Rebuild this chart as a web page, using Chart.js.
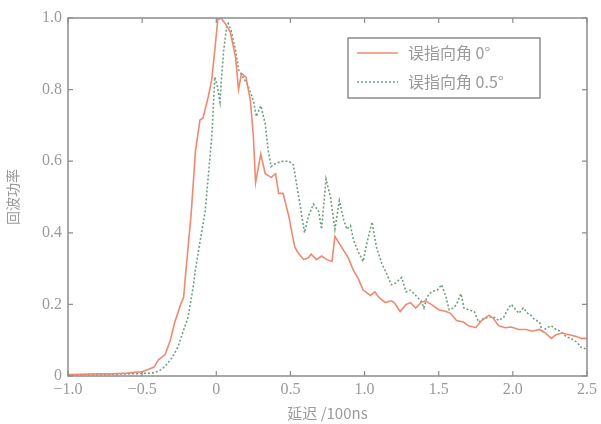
<!DOCTYPE html>
<html><head><meta charset="utf-8">
<script src="https://cdn.jsdelivr.net/npm/chart.js@4/dist/chart.umd.min.js"></script>
<style>html,body{margin:0;padding:0;background:#fff;}#wrap{width:601px;height:424px;}</style>
</head><body><div id="wrap"><canvas id="c" width="601" height="424"></canvas></div>
<script>
const seriesNames = ['误指向角 0°', '误指向角 0.5°'];
const xTicks = [-1.0, -0.5, 0, 0.5, 1.0, 1.5, 2.0, 2.5];
const yTicks = [0, 0.2, 0.4, 0.6, 0.8, 1.0];
const redX = [-1.0,-0.9,-0.8,-0.7,-0.6,-0.55,-0.5,-0.46,-0.42,-0.39,-0.345,-0.31,-0.28,-0.24,-0.22,-0.21,-0.17,-0.14,-0.11,-0.09,-0.054,-0.03,-0.01,0.01,0.03,0.06,0.095,0.13,0.15,0.17,0.20,0.23,0.25,0.265,0.30,0.33,0.37,0.40,0.42,0.45,0.49,0.51,0.53,0.55,0.59,0.62,0.64,0.675,0.71,0.745,0.78,0.80,0.845,0.89,0.925,0.96,0.99,1.04,1.07,1.095,1.14,1.18,1.20,1.24,1.28,1.31,1.345,1.38,1.41,1.45,1.50,1.55,1.58,1.62,1.67,1.70,1.75,1.79,1.84,1.87,1.905,1.95,1.99,2.04,2.09,2.13,2.18,2.22,2.26,2.29,2.33,2.38,2.43,2.46,2.5];
const redY = [0.004,0.005,0.006,0.006,0.008,0.010,0.012,0.018,0.025,0.045,0.06,0.10,0.15,0.20,0.22,0.27,0.45,0.63,0.715,0.72,0.78,0.83,0.91,0.995,1.0,0.985,0.96,0.89,0.80,0.845,0.835,0.77,0.67,0.54,0.62,0.565,0.555,0.565,0.51,0.51,0.445,0.40,0.36,0.345,0.325,0.33,0.34,0.325,0.335,0.325,0.32,0.39,0.36,0.33,0.295,0.27,0.24,0.225,0.235,0.22,0.205,0.21,0.205,0.18,0.20,0.205,0.19,0.205,0.21,0.20,0.185,0.18,0.175,0.155,0.15,0.14,0.135,0.155,0.17,0.16,0.14,0.135,0.137,0.13,0.13,0.125,0.13,0.12,0.105,0.115,0.12,0.115,0.11,0.105,0.105];
const greenX = [-1.0,-0.9,-0.8,-0.7,-0.6,-0.5,-0.45,-0.41,-0.37,-0.34,-0.30,-0.26,-0.19,-0.155,-0.14,-0.075,-0.03,-0.01,0.007,0.025,0.035,0.05,0.07,0.08,0.10,0.13,0.15,0.18,0.215,0.25,0.27,0.30,0.33,0.35,0.37,0.405,0.45,0.49,0.52,0.54,0.57,0.595,0.62,0.655,0.69,0.71,0.74,0.77,0.80,0.83,0.86,0.88,0.905,0.925,0.96,0.99,1.015,1.05,1.08,1.115,1.15,1.18,1.21,1.25,1.28,1.31,1.345,1.38,1.40,1.42,1.45,1.49,1.52,1.55,1.57,1.60,1.62,1.65,1.67,1.70,1.74,1.77,1.80,1.84,1.87,1.905,1.94,1.97,1.99,2.02,2.04,2.07,2.10,2.12,2.14,2.18,2.20,2.23,2.26,2.29,2.32,2.36,2.39,2.43,2.46,2.5];
const greenY = [0.003,0.004,0.004,0.005,0.006,0.007,0.008,0.010,0.018,0.03,0.05,0.08,0.165,0.25,0.30,0.46,0.67,0.835,0.81,0.765,0.83,0.91,0.975,0.985,0.965,0.91,0.855,0.835,0.81,0.77,0.725,0.755,0.705,0.63,0.585,0.595,0.60,0.60,0.59,0.54,0.465,0.40,0.445,0.48,0.46,0.41,0.55,0.50,0.41,0.49,0.435,0.41,0.42,0.38,0.345,0.32,0.37,0.43,0.36,0.315,0.285,0.255,0.26,0.275,0.235,0.24,0.225,0.21,0.19,0.22,0.235,0.24,0.255,0.22,0.185,0.19,0.20,0.23,0.19,0.185,0.18,0.15,0.16,0.165,0.165,0.155,0.165,0.19,0.20,0.185,0.175,0.19,0.175,0.17,0.16,0.15,0.125,0.135,0.14,0.13,0.125,0.11,0.105,0.095,0.08,0.075];

const AXIS = '#8c8c8c';
const TXT = '#9a9a9a';
const RED = '#ee8a72';
const GREEN = '#6f9f80';
const toPts = (xs, ys) => xs.map((x, i) => ({x: x, y: ys[i]}));
const fmt = v => (Math.abs(v) < 1e-9 ? '0' : v.toFixed(1).replace('-', '\u2212'));

const framePlugin = {
  id: 'frame',
  afterDraw(chart) {
    const {ctx, chartArea: a, scales} = chart;
    ctx.save();
    ctx.strokeStyle = AXIS;
    ctx.lineWidth = 1.5;
    ctx.strokeRect(a.left, a.top, a.right - a.left, a.bottom - a.top);
    ctx.lineWidth = 1.2;
    const L = 5;
    xTicks.forEach(v => {
      const px = scales.x.getPixelForValue(v);
      ctx.beginPath();
      ctx.moveTo(px, a.bottom); ctx.lineTo(px, a.bottom - L);
      ctx.moveTo(px, a.top); ctx.lineTo(px, a.top + L);
      ctx.stroke();
    });
    yTicks.forEach(v => {
      const py = scales.y.getPixelForValue(v);
      ctx.beginPath();
      ctx.moveTo(a.left, py); ctx.lineTo(a.left + L, py);
      ctx.moveTo(a.right, py); ctx.lineTo(a.right - L, py);
      ctx.stroke();
    });
    // legend box
    const bx = 348, by = 38, bw = 192, bh = 60;
    ctx.fillStyle = '#fff';
    ctx.fillRect(bx, by, bw, bh);
    ctx.strokeStyle = AXIS;
    ctx.lineWidth = 1.5;
    ctx.strokeRect(bx, by, bw, bh);
    const ds = chart.data.datasets;
    ds.forEach((d, i) => {
      const y = by + 15 + i * 29;
      ctx.strokeStyle = d.borderColor;
      ctx.lineWidth = 1.6;
      ctx.setLineDash(d.borderDash || []);
      ctx.beginPath(); ctx.moveTo(357, y); ctx.lineTo(398, y); ctx.stroke();
      ctx.setLineDash([]);
      ctx.fillStyle = TXT;
      ctx.font = '16px "Noto Sans CJK SC", "Liberation Serif", serif';
      ctx.textBaseline = 'middle';
      ctx.textAlign = 'left';
      ctx.fillText(d.label, 408, y);
    });
    ctx.restore();
  }
};

new Chart(document.getElementById('c'), {
  type: 'line',
  data: {
    datasets: [
      {label: seriesNames[0], data: toPts(redX, redY), borderColor: RED, borderWidth: 1.6, pointRadius: 0, tension: 0, fill: false},
      {label: seriesNames[1], data: toPts(greenX, greenY), borderColor: GREEN, borderWidth: 1.6, borderDash: [2, 2], pointRadius: 0, tension: 0, fill: false}
    ]
  },
  options: {
    responsive: false,
    animation: false,
    layout: {padding: {left: 0, right: 13, top: 18, bottom: 0}},
    plugins: {legend: {display: false}, tooltip: {enabled: false}},
    scales: {
      x: {
        type: 'linear', min: -1.0, max: 2.5,
        afterBuildTicks: s => { s.ticks = xTicks.map(v => ({value: v})); },
        afterFit: s => { s.height = 48; },
        grid: {display: false, drawTicks: false},
        border: {display: false},
        ticks: {callback: v => fmt(v), color: TXT, font: {family: '"Liberation Serif", serif', size: 16}, padding: 4, maxRotation: 0, autoSkip: false},
        title: {display: true, text: '延迟 /100ns', color: TXT, font: {family: '"Noto Sans CJK SC", "Liberation Serif", serif', size: 15}, padding: {top: 0, bottom: 2}}
      },
      y: {
        type: 'linear', min: 0, max: 1.0,
        afterBuildTicks: s => { s.ticks = yTicks.map(v => ({value: v})); },
        afterFit: s => { s.width = 68; },
        grid: {display: false, drawTicks: false},
        border: {display: false},
        ticks: {callback: v => fmt(v), color: TXT, font: {family: '"Liberation Serif", serif', size: 16}, padding: 6},
        title: {display: true, text: '回波功率', color: TXT, font: {family: '"Noto Sans CJK SC", sans-serif', size: 14}, padding: {top: 4, bottom: 0}}
      }
    }
  },
  plugins: [framePlugin]
});
</script>
</body></html>
